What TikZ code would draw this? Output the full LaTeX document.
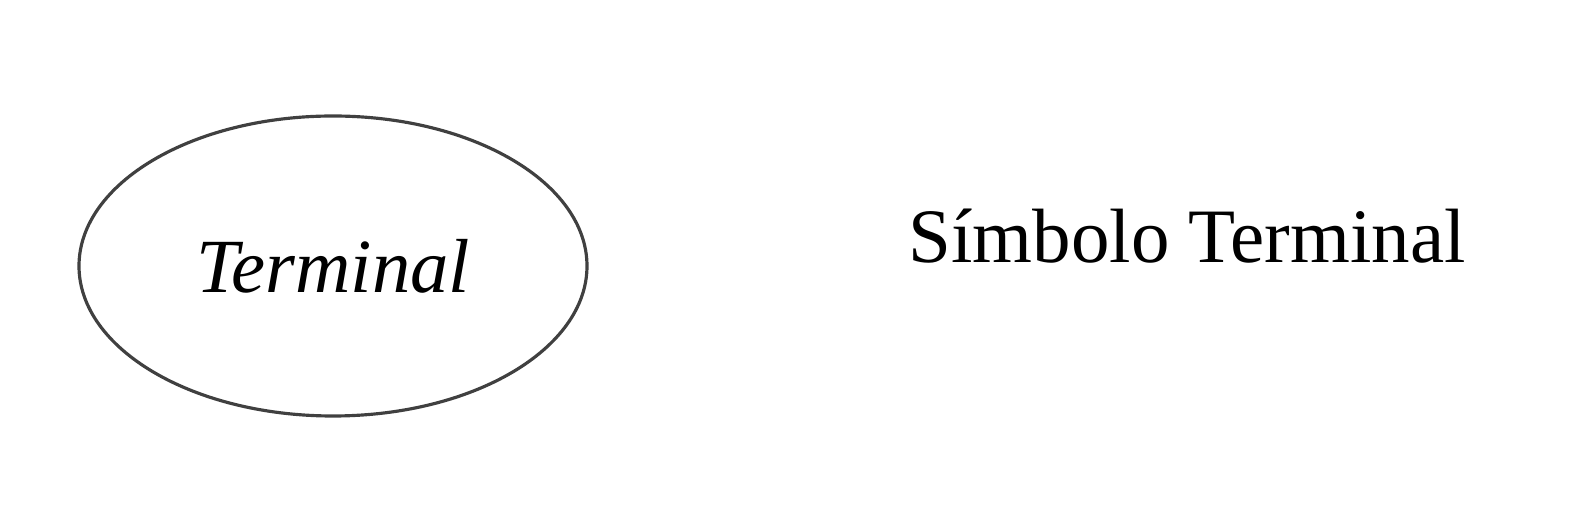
\documentclass[tikz,border=0pt]{standalone}
\usepackage{fontspec}
\setmainfont{Liberation Serif}
\usetikzlibrary{shapes.geometric}
\begin{document}
\begin{tikzpicture}[terminalbox/.style={ellipse, draw=black!75, line width=0.9pt, minimum width=5.08cm, minimum height=3.0cm, inner sep=0pt}]
      \useasboundingbox (0,0) rectangle (15.72,5.11);
      \node[terminalbox] (terminal) at (3.33,2.45) {\fontsize{21.8}{26}\selectfont\itshape Terminal};
      \node[anchor=base, inner sep=0pt] (caption) at (11.87,2.48) {\fontsize{21.9}{26}\selectfont Símbolo Terminal};
    \end{tikzpicture}
\end{document}
